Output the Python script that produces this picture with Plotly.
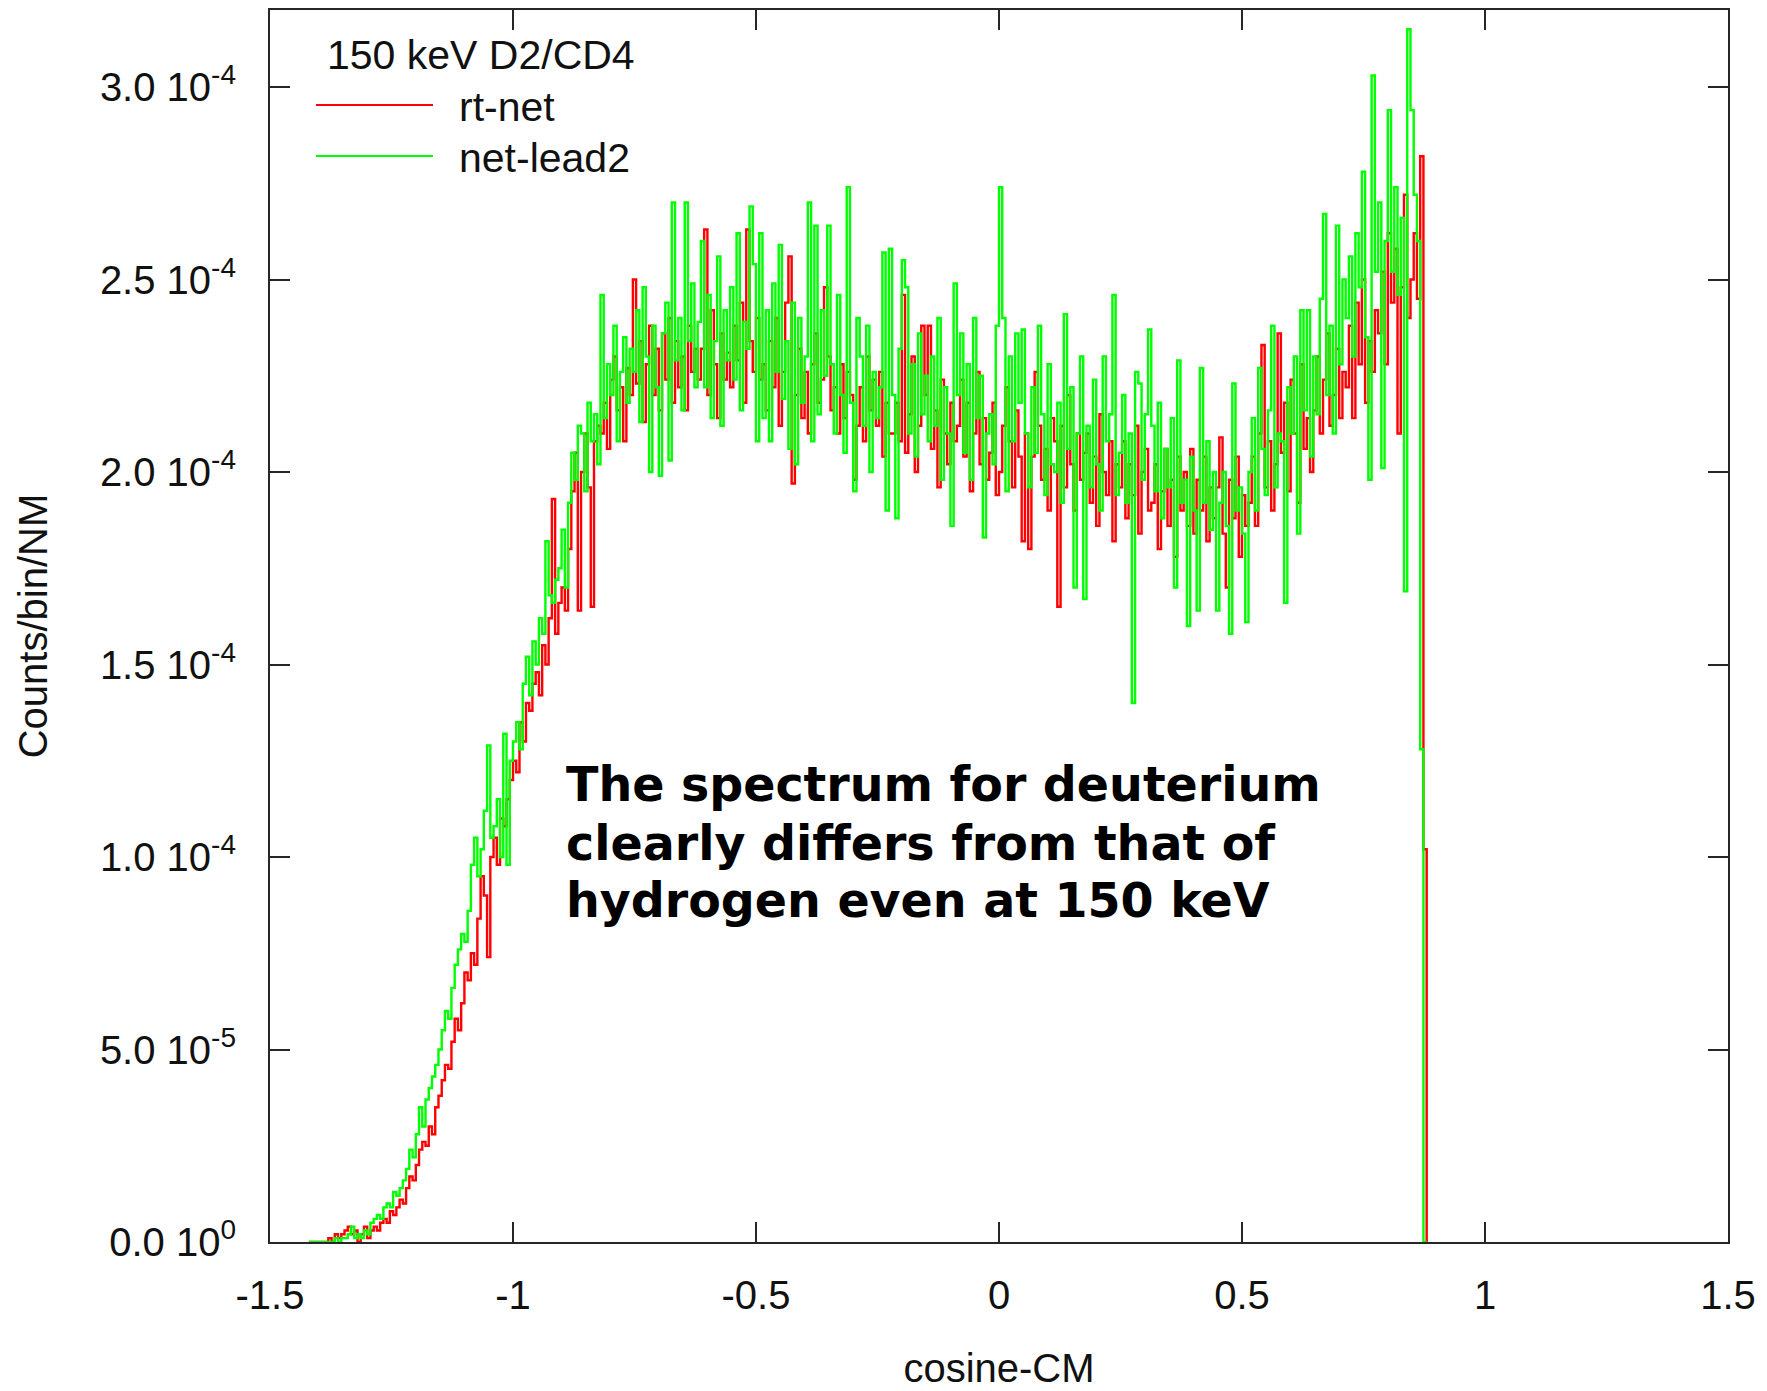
import numpy as np
import plotly.graph_objects as go

# ---------------- data (values in units of 1e-4 counts/bin/NM) ----------------
BIN_START = -1.42
BIN_WIDTH = 1.0 / 150.0
SCALE = 1e-4

rt_net = [
    0, 0, 0, 0, 0, 0, 0.01, 0, 0.02, 0.01,
    0.02, 0.03, 0.04, 0.02, 0.03, 0, 0.02, 0.04, 0.01, 0.03,
    0.04, 0.03, 0.05, 0.06, 0.05, 0.08, 0.07, 0.09, 0.11, 0.10,
    0.14, 0.17, 0.16, 0.20, 0.24, 0.26, 0.25, 0.30, 0.28, 0.35,
    0.38, 0.42, 0.46, 0.45, 0.52, 0.58, 0.55, 0.62, 0.70, 0.68,
    0.75, 0.72, 0.84, 0.95, 0.90, 0.74, 1.00, 1.05, 0.98, 1.10,
    1.08, 1.15, 1.20, 1.25, 1.22, 1.35, 1.30, 1.40, 1.38, 1.45,
    1.48, 1.42, 1.55, 1.50, 1.62, 1.93, 1.58, 1.66, 1.70, 1.64,
    1.80, 1.95, 2.05, 1.64, 2.00, 2.10, 1.96, 1.65, 2.08, 2.12,
    2.10, 2.18, 2.06, 2.24, 2.30, 2.16, 2.22, 2.08, 2.27, 2.20,
    2.50, 2.23, 2.34, 2.13, 2.28, 2.38, 2.20, 2.32, 2.16, 2.36,
    2.24, 2.40, 2.18, 2.34, 2.22, 2.30, 2.16, 2.38, 2.26, 2.32,
    2.24, 2.32, 2.63, 2.20, 2.42, 2.28, 2.14, 2.36, 2.24, 2.31,
    2.22, 2.38, 2.29, 2.44, 2.18, 2.63, 2.34, 2.26, 2.40, 2.24,
    2.28, 2.16, 2.34, 2.22, 2.40, 2.12, 2.26, 2.44, 2.56, 1.97,
    2.20, 2.32, 2.14, 2.26, 2.10, 2.28, 2.36, 2.18, 2.24, 2.48,
    2.30, 2.16, 2.22, 2.10, 2.28, 2.14, 2.26, 2.20, 1.98, 2.12,
    2.22, 2.08, 2.30, 2.16, 2.24, 2.12, 2.26, 2.04, 2.18, 2.10,
    2.10, 2.18, 2.08, 2.46, 2.05, 2.15, 2.30, 2.00, 2.12, 2.38,
    2.20, 2.38, 2.06, 2.16, 1.96, 2.24, 2.10, 2.02, 2.18, 2.08,
    2.12, 2.24, 2.04, 2.18, 1.95, 2.10, 2.26, 2.02, 2.14, 1.98,
    2.05, 2.18, 1.94, 2.00, 2.12, 2.22, 2.08, 1.96, 2.16, 2.04,
    1.82, 2.10, 1.80, 2.04, 2.26, 2.12, 1.98, 2.06, 1.90, 2.14,
    2.08, 1.65, 2.12, 1.96, 2.20, 2.02, 1.90, 2.10, 1.98, 2.05,
    2.10, 1.92, 2.04, 1.86, 2.15, 2.00, 1.94, 2.08, 1.82, 2.02,
    1.96, 2.08, 1.88, 2.02, 1.94, 2.12, 1.84, 2.00, 2.06, 1.90,
    1.92, 2.02, 1.80, 1.95, 2.06, 1.86, 1.98, 1.78, 2.04, 1.90,
    2.00, 1.86, 2.06, 1.84, 1.98, 1.90, 2.04, 1.82, 1.96, 1.88,
    1.96, 2.09, 1.84, 1.70, 1.98, 1.88, 2.04, 1.78, 1.94, 1.86,
    1.92, 2.04, 1.86, 2.10, 2.33, 1.96, 2.08, 1.90, 2.02, 2.36,
    2.05, 2.18, 1.95, 2.24, 2.10, 1.92, 2.28, 2.06, 2.14, 2.00,
    2.16, 2.30, 2.10, 2.24, 2.36, 2.12, 2.20, 2.32, 2.14, 2.26,
    2.22, 2.38, 2.14, 2.44, 2.28, 2.50, 2.18, 2.34, 2.26, 2.42,
    2.36, 2.52, 2.28, 2.62, 2.44, 2.58, 2.10, 2.48, 2.72, 2.40,
    2.50, 2.62, 2.45, 2.82, 1.02,
]

net_lead2 = [
    0, 0, 0, 0, 0, 0, 0, 0, 0.01, 0,
    0.01, 0.01, 0.02, 0.04, 0.01, 0.02, 0.01, 0.03, 0.02, 0.05,
    0.06, 0.07, 0.06, 0.09, 0.10, 0.09, 0.13, 0.12, 0.14, 0.16,
    0.19, 0.24, 0.22, 0.28, 0.35, 0.30, 0.37, 0.40, 0.43, 0.46,
    0.50, 0.55, 0.60, 0.58, 0.66, 0.72, 0.76, 0.80, 0.78, 0.86,
    0.98, 1.05, 0.95, 1.02, 1.12, 1.29, 1.05, 1.08, 1.15, 1.00,
    1.32, 0.98, 1.25, 1.30, 1.35, 1.28, 1.45, 1.52, 1.42, 1.56,
    1.50, 1.62, 1.58, 1.82, 1.68, 1.66, 1.72, 1.75, 1.85, 1.70,
    1.92, 2.05, 1.98, 2.12, 2.10, 1.95, 2.18, 2.08, 2.15, 2.02,
    2.46, 2.14, 2.28, 2.20, 2.38, 2.08, 2.26, 2.35, 2.18, 2.32,
    2.26, 2.42, 2.13, 2.48, 2.30, 2.00, 2.38, 2.22, 1.99, 2.36,
    2.44, 2.03, 2.70, 2.29, 2.40, 2.16, 2.70, 2.34, 2.49, 2.22,
    2.39, 2.60, 2.22, 2.46, 2.14, 2.34, 2.56, 2.12, 2.42, 2.29,
    2.48, 2.24, 2.62, 2.16, 2.39, 2.32, 2.69, 2.54, 2.08, 2.62,
    2.14, 2.42, 2.08, 2.49, 2.26, 2.59, 2.19, 2.34, 2.06, 2.44,
    2.02, 2.40, 2.18, 2.30, 2.70, 2.08, 2.64, 2.15, 2.42, 2.25,
    2.64, 2.28, 2.10, 2.46, 2.20, 2.05, 2.74, 2.18, 1.95, 2.40,
    2.30, 2.12, 2.38, 2.00, 2.26, 2.14, 2.22, 2.57, 1.90, 2.58,
    2.20, 1.88, 2.32, 2.55, 2.48, 2.10, 2.28, 2.04, 2.36, 2.15,
    2.25, 2.08, 2.30, 2.12, 2.40, 1.98, 2.22, 2.10, 1.86, 2.49,
    2.20, 2.36, 2.05, 2.28, 1.98, 2.40, 2.14, 2.25, 1.83, 2.10,
    2.15, 2.02, 2.38, 2.74, 2.40, 1.95, 2.30, 2.08, 2.36, 2.18,
    2.37, 2.10, 1.96, 2.22, 2.05, 2.38, 2.15, 1.94, 2.28, 2.02,
    2.00, 2.18, 1.92, 2.41, 2.06, 2.22, 1.70, 2.10, 2.30, 1.67,
    2.12, 1.96, 2.24, 2.02, 1.90, 2.30, 2.08, 2.15, 2.46, 1.94,
    2.05, 2.20, 1.92, 2.10, 1.40, 2.26, 2.23, 1.98, 2.15, 2.37,
    2.12, 1.95, 2.18, 1.88, 2.06, 1.96, 2.14, 1.70, 2.29, 1.92,
    1.98, 1.60, 2.04, 1.90, 1.64, 2.27, 1.92, 2.08, 1.85, 2.00,
    1.64, 1.92, 2.00, 1.86, 1.58, 2.23, 1.90, 1.96, 1.84, 1.61,
    2.00, 2.14, 1.90, 2.27, 2.06, 1.94, 2.16, 2.38, 1.96, 2.10,
    2.08, 1.66, 2.22, 2.10, 2.30, 1.84, 2.42, 2.16, 2.42, 2.04,
    2.30, 2.15, 2.45, 2.67, 2.20, 2.38, 2.10, 2.64, 2.28, 2.50,
    2.40, 2.56, 2.30, 2.62, 2.48, 2.78, 2.35, 1.98, 3.03, 2.52,
    2.70, 2.01, 2.60, 2.94, 2.52, 2.74, 2.46, 2.66, 1.69, 3.15,
    2.94, 2.72, 2.60, 1.28, 0.00,
]

series_names = ["rt-net", "net-lead2"]
series_colors = ["#ff0000", "#00ff00"]
legend_title = "150 keV D2/CD4"
note_lines = [
    "The spectrum for deuterium",
    "clearly differs from that of",
    "hydrogen even at 150 keV",
]

x_tick_vals = [-1.5, -1.0, -0.5, 0.0, 0.5, 1.0, 1.5]
x_tick_text = ["-1.5", "-1", "-0.5", "0", "0.5", "1", "1.5"]
y_tick_vals = [0.0, 0.5e-4, 1.0e-4, 1.5e-4, 2.0e-4, 2.5e-4, 3.0e-4]
y_tick_text = [
    "0.0 10<sup>0</sup>",
    "5.0 10<sup>-5</sup>",
    "1.0 10<sup>-4</sup>",
    "1.5 10<sup>-4</sup>",
    "2.0 10<sup>-4</sup>",
    "2.5 10<sup>-4</sup>",
    "3.0 10<sup>-4</sup>",
]

# ---------------- figure ----------------
W, H = 1767, 1391
ML, MR, MT, MB = 270, 39, 10, 149
PW, PH = W - ML - MR, H - MT - MB

def px_x(px):
    return (px - ML) / PW

def px_y(py):
    return (H - MB - py) / PH

ARIAL = "Liberation Sans, Arial, Arimo, sans-serif"
AX_COLOR = "#262626"
TXT_COLOR = "#111111"

fig = go.Figure()
for name, color, vals in zip(series_names, series_colors, [rt_net, net_lead2]):
    n = len(vals)
    edges = BIN_START + np.arange(n + 1) * BIN_WIDTH
    yv = np.append(np.array(vals, dtype=float) * SCALE, 0.0)
    fig.add_trace(go.Scatter(
        x=edges, y=yv, mode="lines", name=name,
        line=dict(color=color, width=2.4, shape="hv"),
        showlegend=False, hoverinfo="skip",
    ))

axis_common = dict(
    showgrid=False, zeroline=False,
    showline=True, linecolor=AX_COLOR, linewidth=2, mirror="ticks",
    ticks="inside", ticklen=20, tickwidth=2, tickcolor=AX_COLOR,
    tickfont=dict(family=ARIAL, size=40, color=TXT_COLOR),
    automargin=False,
)

fig.update_xaxes(
    range=[-1.5, 1.5], tickmode="array", tickvals=x_tick_vals, ticktext=x_tick_text,
    ticklabelstandoff=17,
    title=dict(text="cosine-CM", font=dict(family=ARIAL, size=40, color=TXT_COLOR), standoff=38),
    **axis_common,
)
fig.update_yaxes(
    range=[0, 3.2e-4], tickmode="array", tickvals=y_tick_vals, ticktext=y_tick_text,
    ticklabelstandoff=24,
    title=dict(text="Counts/bin/NM", font=dict(family=ARIAL, size=40, color=TXT_COLOR), standoff=40),
    **axis_common,
)

annotations = []
# legend (drawn manually to reproduce the long sample lines)
annotations.append(dict(
    xref="paper", yref="paper", x=px_x(325), y=px_y(55), xanchor="left", yanchor="middle",
    text=legend_title, showarrow=False, font=dict(family=ARIAL, size=41, color=TXT_COLOR),
))
shapes = []
for name, color, py in zip(series_names, series_colors, [105, 156]):
    shapes.append(dict(
        type="line", xref="paper", yref="paper",
        x0=px_x(316), x1=px_x(433), y0=px_y(py), y1=px_y(py),
        line=dict(color=color, width=2),
    ))
    annotations.append(dict(
        xref="paper", yref="paper", x=px_x(457), y=px_y(py + 2), xanchor="left", yanchor="middle",
        text=name, showarrow=False, font=dict(family=ARIAL, size=41, color=TXT_COLOR),
    ))

for line, py in zip(note_lines, [785, 843, 900]):
    annotations.append(dict(
        xref="paper", yref="paper", x=px_x(564), y=px_y(py), xanchor="left", yanchor="middle",
        text=line, showarrow=False,
        font=dict(family="DejaVu Sans", size=47.5, color="#000000", weight="bold"),
    ))

fig.update_layout(
    width=W, height=H,
    margin=dict(l=ML, r=MR, t=MT, b=MB, pad=0),
    paper_bgcolor="white", plot_bgcolor="white",
    font=dict(family=ARIAL, size=40, color=TXT_COLOR),
    annotations=annotations, shapes=shapes,
    showlegend=False,
)

fig.write_html("out.html")
